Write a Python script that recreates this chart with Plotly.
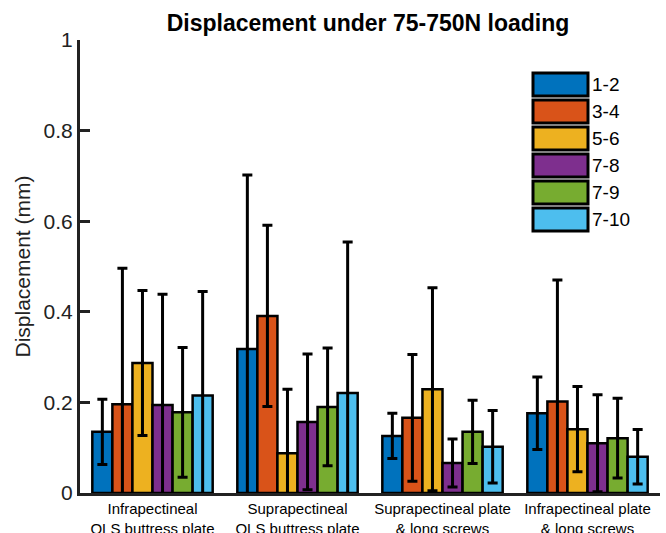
import plotly.graph_objects as go

categories = ["Infrapectineal<br>QLS buttress plate",
              "Suprapectineal<br>QLS buttress plate",
              "Suprapectineal plate<br>& long screws",
              "Infrapectineal plate<br>& long screws"]
series_names = ["1-2", "3-4", "5-6", "7-8", "7-9", "7-10"]
colors = ["#0072BD", "#D95319", "#EDB120", "#7E2F8E", "#77AC30", "#4DBEEE"]

# mean displacement (mm) per series, one value per category
means = {
    "1-2":  [0.135, 0.318, 0.126, 0.176],
    "3-4":  [0.196, 0.391, 0.166, 0.202],
    "5-6":  [0.287, 0.088, 0.229, 0.141],
    "7-8":  [0.194, 0.157, 0.066, 0.110],
    "7-9":  [0.178, 0.190, 0.135, 0.121],
    "7-10": [0.215, 0.221, 0.102, 0.080],
}
# standard deviation (mm)
sds = {
    "1-2":  [0.072, 0.384, 0.050, 0.080],
    "3-4":  [0.300, 0.200, 0.140, 0.268],
    "5-6":  [0.160, 0.141, 0.224, 0.094],
    "7-8":  [0.245, 0.150, 0.053, 0.107],
    "7-9":  [0.143, 0.130, 0.070, 0.088],
    "7-10": [0.230, 0.333, 0.080, 0.060],
}

W, H = 666, 533
ML, MR, MT, MB = 80, 6, 40, 40
PW, PH = W - ML - MR, H - MT - MB
FONT = "Liberation Sans, Arial, Helvetica"

fig = go.Figure()
xs = list(range(1, len(categories) + 1))
for name, col in zip(series_names, colors):
    fig.add_trace(go.Bar(
        x=xs, y=means[name], name=name,
        marker=dict(color=col, line=dict(color="black", width=2.5)),
        error_y=dict(type="data", array=sds[name], visible=True,
                     color="black", thickness=3, width=5),
        showlegend=False,
    ))

# custom legend with large swatches (like the MATLAB legend)
box_left, box_right, first_top, box_h, pitch = 533, 588, 73, 23, 27
for i, (name, col) in enumerate(zip(series_names, colors)):
    top = first_top + i * pitch
    bot = top + box_h
    fig.add_shape(type="rect", xref="paper", yref="paper",
                  x0=(box_left - ML) / PW, x1=(box_right - ML) / PW,
                  y0=(H - MB - bot) / PH, y1=(H - MB - top) / PH,
                  fillcolor=col, line=dict(color="black", width=3))
    fig.add_annotation(xref="paper", yref="paper",
                       x=(box_right + 2 - ML) / PW, y=(H - MB - (top + bot) / 2) / PH,
                       text=name, showarrow=False, xanchor="left", yanchor="middle",
                       font=dict(size=19, color="black", family=FONT))

fig.update_layout(
    width=W, height=H,
    margin=dict(l=ML, r=MR, t=MT, b=MB, autoexpand=False),
    paper_bgcolor="white", plot_bgcolor="white",
    barmode="group", bargap=0.17, bargroupgap=0,
    font=dict(family=FONT, color="black"),
    title=dict(text="<b>Displacement under 75-750N loading</b>",
               x=368 / W, xanchor="center", y=1 - 23 / H, yanchor="middle",
               font=dict(size=23, color="black"), automargin=False),
    xaxis=dict(range=[0.5, 4.5], tickvals=xs, ticktext=categories,
               showline=True, linecolor="#222", linewidth=3, ticks="",
               showgrid=False, zeroline=False, automargin=False,
               tickfont=dict(size=15, color="black")),
    yaxis=dict(range=[0, 1], tickvals=[0, 0.2, 0.4, 0.6, 0.8, 1],
               ticktext=["0", "0.2", "0.4", "0.6", "0.8", "1"],
               showline=True, linecolor="#222", linewidth=3,
               ticks="inside", ticklen=10, tickwidth=3, tickcolor="#222",
               ticklabelstandoff=0, automargin=False,
               showgrid=False, zeroline=False,
               tickfont=dict(size=21, color="#222"),
               title=dict(text="Displacement (mm)", font=dict(size=21, color="#222"),
                          standoff=8)),
)

fig.write_html("out.html", config={"displayModeBar": False},
               post_script="document.body.style.margin='0';document.body.style.overflow='hidden';")
